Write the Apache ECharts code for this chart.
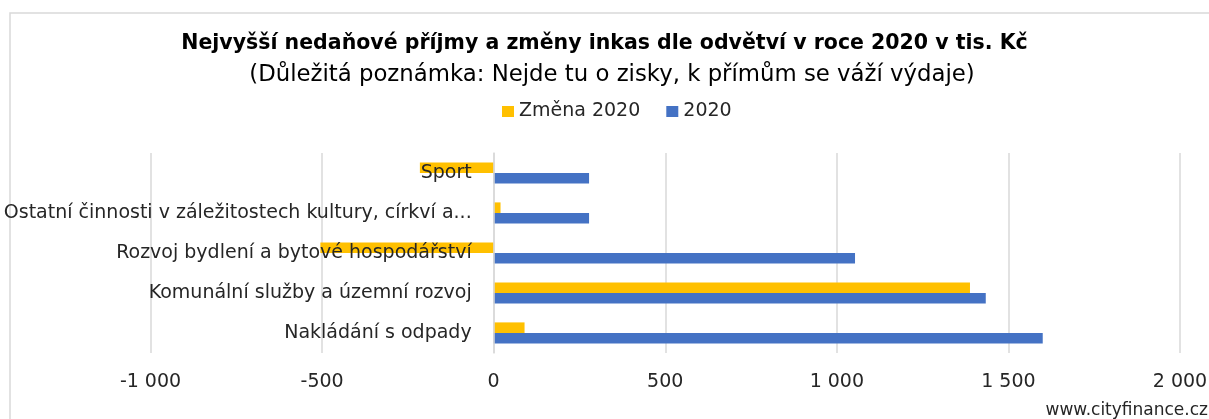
<!DOCTYPE html>
<html>
<head>
<meta charset="utf-8">
<script src="https://cdn.jsdelivr.net/npm/echarts@6/dist/echarts.min.js"></script>
<style>
html,body{margin:0;padding:0;background:#fff;}
#chart{width:1209px;height:419px;}
</style>
</head>
<body>
<div id="chart"></div>
<script>
const categories = [
  'Sport',
  'Ostatní činnosti v záležitostech kultury, církví a...',
  'Rozvoj bydlení a bytové hospodářství',
  'Komunální služby a územní rozvoj',
  'Nakládání s odpady'
];
const zmena2020 = [-215, 20, -505, 1388, 90];
const values2020 = [278, 278, 1053, 1434, 1600];
const seriesNames = ['Změna 2020', '2020'];
const titleText = 'Nejvyšší nedaňové příjmy a změny inkas dle odvětví v roce 2020 v tis. Kč';
const subtitleText = '(Důležitá poznámka: Nejde tu o zisky, k přímům se váží výdaje)';
const sourceText = 'www.cityfinance.cz';

const FONT = 'DejaVu Sans';
const GRID_LEFT = 150.5, GRID_RIGHT = 29, X_MIN = -1000, X_MAX = 2000;
const chart = echarts.init(document.getElementById('chart'));
function fmt(v){
  const s = Math.abs(v).toString().replace(/\B(?=(\d{3})+(?!\d))/g, ' ');
  return (v < 0 ? '-' : '') + s;
}
// place the category axis at value 0 (Excel style)
const plotW = 1209 - GRID_LEFT - GRID_RIGHT;
const zeroOffset = -plotW * (0 - X_MIN) / (X_MAX - X_MIN);
chart.setOption({
  animation: false,
  backgroundColor: '#fff',
  title: [
    { text: titleText, left: 'center', top: 33, padding: 0,
      textStyle: { fontFamily: FONT, fontSize: 20.5, fontWeight: 'bold', color: '#000' } },
    { text: subtitleText, left: 612, top: 64, padding: 0, textAlign: 'center',
      textStyle: { fontFamily: FONT, fontSize: 22.8, fontWeight: 'normal', color: '#000' } }
  ],
  legend: {
    data: seriesNames,
    top: 102,
    left: 502,
    padding: 0,
    itemWidth: 12, itemHeight: 11, itemGap: 26,
    icon: 'rect',
    textStyle: { fontFamily: FONT, fontSize: 19, color: '#262626' }
  },
  grid: { left: GRID_LEFT, right: GRID_RIGHT, top: 153, bottom: 66, containLabel: false, outerBoundsMode: 'none' },
  xAxis: {
    type: 'value', min: X_MIN, max: X_MAX, interval: 500,
    axisLine: { show: false }, axisTick: { show: false },
    splitLine: { lineStyle: { color: '#d9d9d9', width: 1.5 } },
    axisLabel: { formatter: fmt, fontFamily: FONT, fontSize: 19, color: '#262626', margin: 20 }
  },
  yAxis: {
    type: 'category', data: categories, inverse: true, z: 5,
    offset: zeroOffset,
    axisLine: { show: true, onZero: false, lineStyle: { color: '#d9d9d9', width: 1.5 } },
    axisTick: { show: false },
    axisLabel: { fontFamily: FONT, fontSize: 19, color: '#262626', margin: 22 }
  },
  series: [
    { name: seriesNames[0], type: 'bar', data: zmena2020, barGap: '0%', barCategoryGap: '47%',
      itemStyle: { color: '#ffc000' } },
    { name: seriesNames[1], type: 'bar', data: values2020, barGap: '0%', barCategoryGap: '47%',
      itemStyle: { color: '#4472c4' } }
  ],
  graphic: [
    { type: 'rect', shape: { x: 10, y: 13, width: 1220, height: 420 }, silent: true, z: -1,
      style: { fill: 'none', stroke: '#d9d9d9', lineWidth: 1.5 } },
    { type: 'text', right: 1, bottom: 0,
      style: { text: sourceText, fontFamily: FONT, fontSize: 17, fill: '#262626' } }
  ]
});
</script>
</body>
</html>
